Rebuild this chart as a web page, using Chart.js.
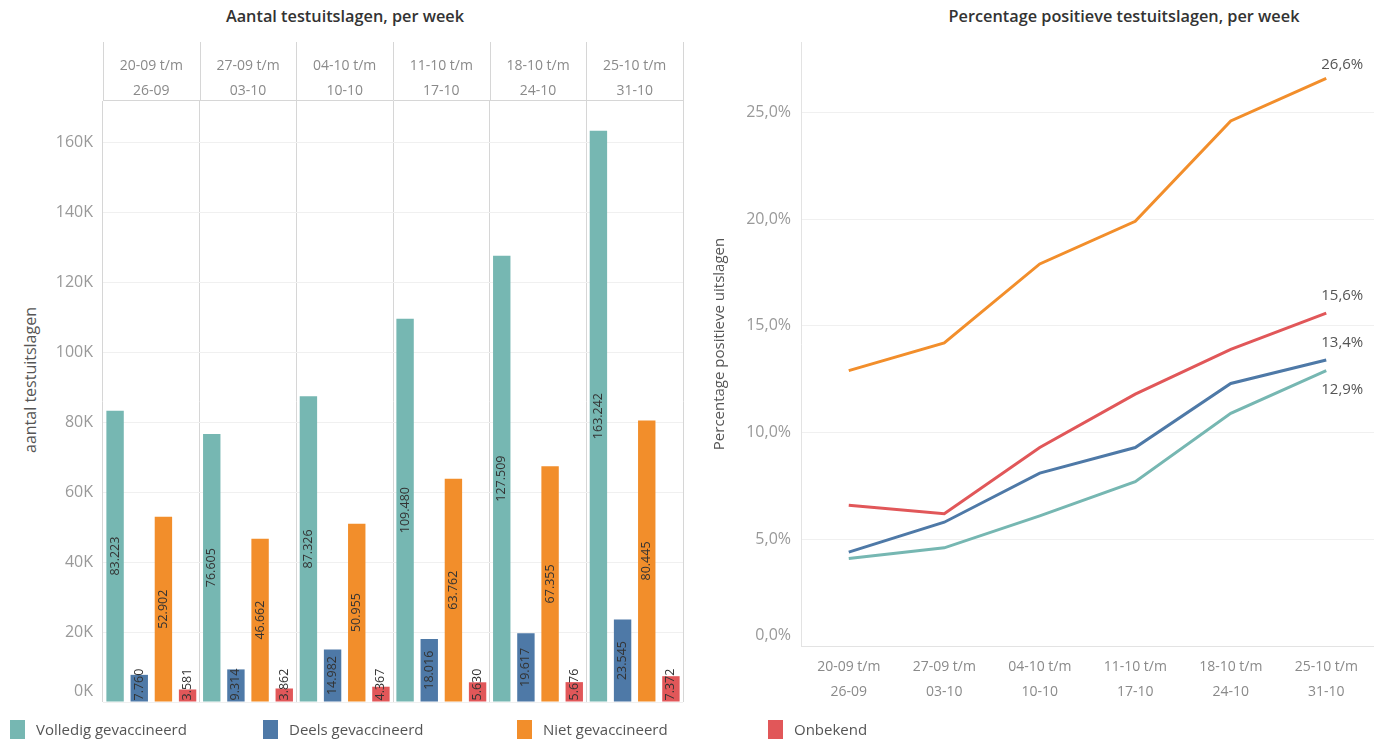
<!DOCTYPE html>
<html><head><meta charset="utf-8">
<script src="https://cdn.jsdelivr.net/npm/chart.js@4.4.1/dist/chart.umd.min.js"></script>
<style>
html,body{margin:0;padding:0;background:#fff;width:1374px;height:739px;overflow:hidden;font-family:'Open Sans',sans-serif;}
canvas{position:absolute;top:0;}
#left{left:0;}
#right{left:700px;}
.title{position:absolute;top:5px;font-size:16.3px;color:#333;white-space:nowrap;transform:translateX(-50%);font-weight:600;}
.ytitle{position:absolute;font-size:16px;color:#555;white-space:nowrap;transform:translate(-50%,-50%) rotate(-90deg);}
.lg{position:absolute;top:719px;height:20px;font-size:15px;color:#555;white-space:nowrap;line-height:20px;}
.lg i{position:absolute;left:0;top:1px;width:15px;height:19px;}
.lg span{position:absolute;left:26px;top:0;}
</style>
</head><body>
<div class="title" style="left:345px">Aantal testuitslagen, per week</div>
<div class="title" style="left:1124px">Percentage positieve testuitslagen, per week</div>
<div class="ytitle" style="left:30px;top:380px">aantal testuitslagen</div>
<canvas id="left" width="700" height="739"></canvas>
<canvas id="right" width="674" height="739"></canvas>
<div id="legend"></div>
<script>
const weeks = [['20-09 t/m','26-09'],['27-09 t/m','03-10'],['04-10 t/m','10-10'],['11-10 t/m','17-10'],['18-10 t/m','24-10'],['25-10 t/m','31-10']];
const seriesNames = ['Volledig gevaccineerd','Deels gevaccineerd','Niet gevaccineerd','Onbekend'];
const seriesColors = ['#76B7B2','#4E79A7','#F28E2B','#E15759'];

const volledigTests = [83223,76605,87326,109480,127509,163242];
const deelsTests = [7760,9314,14982,18016,19617,23545];
const nietTests = [52902,46662,50955,63762,67355,80445];
const onbekendTests = [3581,3862,4367,5630,5676,7372];

const volledigPct = [4.1,4.6,6.1,7.7,10.9,12.9];
const deelsPct = [4.4,5.8,8.1,9.3,12.3,13.4];
const nietPct = [12.9,14.2,17.9,19.9,24.6,26.6];
const onbekendPct = [6.6,6.2,9.3,11.8,13.9,15.6];

const yTicksTests = [0,20000,40000,60000,80000,100000,120000,140000,160000];
const yTicksPct = [0,5,10,15,20,25];

const testSeries = [volledigTests,deelsTests,nietTests,onbekendTests];
const pctSeries = [volledigPct,deelsPct,nietPct,onbekendPct];
const FONT = "'Open Sans', sans-serif";

const fmtNum = n => String(n).replace(/\B(?=(\d{3})+(?!\d))/g,'.');
const fmtPct = v => v.toFixed(1).replace('.',',') + '%';
const fmtK = v => (v/1000)+'K';

// legend
const legendX = [10, 263, 517, 768];
const lgEl = document.getElementById('legend');
seriesNames.forEach((n,i)=>{
  const d=document.createElement('div'); d.className='lg'; d.style.left=legendX[i]+'px';
  d.innerHTML='<i style="background:'+seriesColors[i]+'"></i><span>'+n+'</span>';
  lgEl.appendChild(d);
});

// zero tick label drawn slightly raised (like the original)
const zeroLabel = fmt => ({
  id:'zeroLabel',
  afterDraw(chart){
    const {ctx, scales:{y}} = chart;
    ctx.save(); ctx.font='16px '+FONT; ctx.fillStyle='#999'; ctx.textAlign='right'; ctx.textBaseline='middle';
    ctx.fillText(fmt(0), y.right-10, y.getPixelForValue(0)-11);
    ctx.restore();
  }
});

const headerLines = {
  id:'headerLines',
  afterDraw(chart){
    const {ctx, chartArea:a, scales:{x}} = chart;
    const w=(a.right-a.left)/weeks.length;
    ctx.save(); ctx.strokeStyle='#d6d6d6'; ctx.lineWidth=1;
    for(let i=0;i<=weeks.length;i++){
      const px=Math.round(a.left+i*w)+0.5;
      ctx.beginPath(); ctx.moveTo(px,x.top); ctx.lineTo(px,a.top); ctx.stroke();
    }
    ctx.restore();
  }
};
const barLabels = {
  id:'barLabels',
  afterDatasetsDraw(chart){
    const ctx=chart.ctx; ctx.save();
    ctx.font='12.5px '+FONT; ctx.fillStyle='#333'; ctx.textAlign='center'; ctx.textBaseline='middle';
    chart.data.datasets.forEach((ds,di)=>{
      chart.getDatasetMeta(di).data.forEach((bar,i)=>{
        const t=fmtNum(ds.data[i]); const w=ctx.measureText(t).width;
        let cy=(bar.y+bar.base)/2;
        if(w+6>bar.base-bar.y) cy=bar.base-w/2-1;
        ctx.save(); ctx.translate(bar.x,cy); ctx.rotate(-Math.PI/2); ctx.fillText(t,0,0); ctx.restore();
      });
    });
    ctx.restore();
  }
};
const setTicks = vals => scale => { scale.ticks = vals.map(v=>({value:v})); };

new Chart(document.getElementById('left'),{
  type:'bar',
  data:{labels:weeks,datasets:seriesNames.map((n,i)=>({label:n,data:testSeries[i],backgroundColor:seriesColors[i],categoryPercentage:1,barPercentage:0.72}))},
  options:{
    responsive:false,animation:false,
    layout:{padding:{left:0,top:42,right:17,bottom:37}},
    plugins:{legend:{display:false},tooltip:{enabled:false}},
    scales:{
      x:{position:'top',grid:{color:'#d6d6d6',drawTicks:false,offset:true},border:{display:true,color:'#d6d6d6'},
         ticks:{color:'#8a8a8a',font:{size:14,family:FONT,lineHeight:1.75},padding:-3,maxRotation:0,autoSkip:false},
         afterFit:s=>{s.height=58;}},
      y:{min:0,max:172000,
         afterBuildTicks:setTicks(yTicksTests),
         ticks:{callback:v=>v===0?'':fmtK(v),color:'#999',font:{size:16,family:FONT},padding:10},
         grid:{color:'#f0f0f0',drawTicks:false},border:{display:false},
         afterFit:s=>{s.width=103;}}
    }
  },
  plugins:[headerLines,barLabels,zeroLabel(fmtK)]
});

const endLabelDy=[19,-17,-14,-17];
const endLabels = {
  id:'endLabels',
  afterDatasetsDraw(chart){
    const ctx=chart.ctx; ctx.save();
    ctx.font='15px '+FONT; ctx.fillStyle='#555'; ctx.textAlign='left'; ctx.textBaseline='middle';
    chart.data.datasets.forEach((ds,di)=>{
      const pts=chart.getDatasetMeta(di).data; const p=pts[pts.length-1];
      ctx.fillText(fmtPct(ds.data[ds.data.length-1]),p.x-5,p.y+endLabelDy[di]);
    });
    ctx.restore();
  }
};

new Chart(document.getElementById('right'),{
  type:'line',
  data:{labels:weeks,datasets:seriesNames.map((n,i)=>({label:n,data:pctSeries[i],borderColor:seriesColors[i],backgroundColor:seriesColors[i],borderWidth:3,pointRadius:0,tension:0,fill:false}))},
  options:{
    responsive:false,animation:false,
    layout:{padding:{left:0,top:42,right:0,bottom:35}},
    plugins:{legend:{display:false},tooltip:{enabled:false}},
    scales:{
      x:{offset:true,grid:{display:false},border:{color:'#e3e3e3'},
         ticks:{color:'#8a8a8a',font:{size:14,family:FONT,lineHeight:1.75},padding:1,maxRotation:0,autoSkip:false},
         afterFit:s=>{s.height=58;}},
      y:{min:0,max:28.3,
         afterBuildTicks:setTicks(yTicksPct),
         ticks:{callback:v=>v===0?'':fmtPct(v),color:'#999',font:{size:16,family:FONT},padding:10},
         grid:{color:'#f0f0f0',drawTicks:false},border:{color:'#e3e3e3'},
         title:{display:true,text:'Percentage positieve uitslagen',color:'#555',font:{size:15,family:FONT},padding:{top:11,bottom:0}},
         afterFit:s=>{s.width=101;}}
    }
  },
  plugins:[endLabels,zeroLabel(fmtPct)]
});
</script>
</body></html>
